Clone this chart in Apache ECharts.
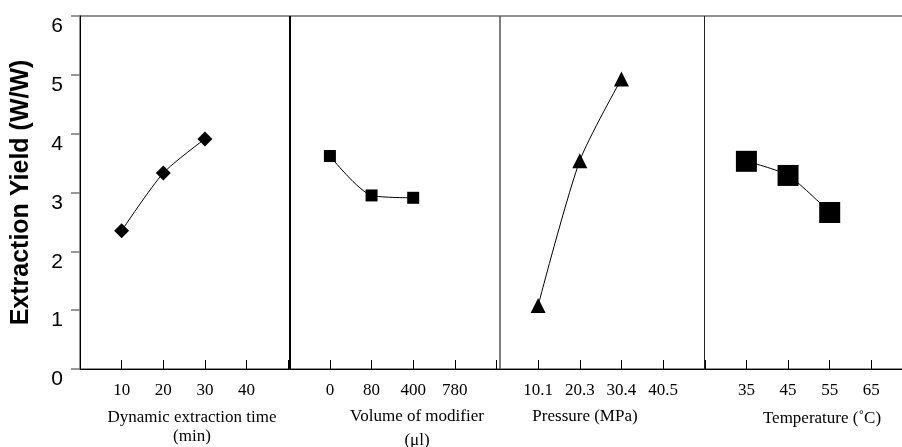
<!DOCTYPE html>
<html>
<head>
<meta charset="utf-8">
<style>
  html, body { margin: 0; padding: 0; background: #fff; }
  #chart { width: 902px; height: 447px; }
</style>
<script src="https://cdn.jsdelivr.net/npm/echarts@6/dist/echarts.min.js"></script>
</head>
<body>
<div id="chart"></div>
<script>
  // tick labels of each panel (4 slots per panel)
  var timeLabels = ['10', '20', '30', '40'];
  var modifierLabels = ['0', '80', '400', '780'];
  var pressureLabels = ['10.1', '20.3', '30.4', '40.5'];
  var tempLabels = ['35', '45', '55', '65'];

  // extraction yield
  var timeYield = [2.35, 3.33, 3.91];
  var modifierYield = [3.62, 2.95, 2.91];
  var pressureYield = [1.08, 3.54, 4.93];
  var tempYield = [3.53, 3.29, 2.66];

  var yTicks = [0, 1, 2, 3, 4, 5, 6];

  var panelLabels = [timeLabels, modifierLabels, pressureLabels, tempLabels];
  var SLOTS = 5;
  // panel separators (axis units)
  var dividers = [
    { x: 5.03, color: '#000', width: 2 },
    { x: 10.07, color: '#555', width: 1.5 },
    { x: 14.98, color: '#222', width: 1 }
  ];

  function toPoints(panel, values) {
    return values.map(function (v, i) {
      return [panel * SLOTS + i + 1, v];
    });
  }

  var serif = "'Liberation Serif', 'Times New Roman', serif";
  var sans = "'Liberation Sans', Arial, sans-serif";

  var chart = echarts.init(document.getElementById('chart'));

  var lineCommon = {
    type: 'line',
    smooth: 0.25,
    lineStyle: { color: '#000', width: 1 },
    itemStyle: { color: '#000' },
    z: 3
  };

  chart.setOption({
    animation: false,
    backgroundColor: '#fff',
    grid: {
      left: 80,
      top: 16,
      width: 833,
      height: 353,
      outerBoundsMode: 'none',
      containLabel: false,
      show: true,
      borderColor: '#6e6e6e',
      borderWidth: 1.5
    },
    xAxis: {
      type: 'value',
      min: 0,
      max: panelLabels.length * SLOTS,
      interval: 1,
      splitLine: { show: false },
      axisLine: { lineStyle: { color: '#000', width: 1 } },
      axisTick: { inside: true, length: 9, lineStyle: { color: '#000', width: 1 } },
      axisLabel: {
        margin: 13,
        fontFamily: serif,
        fontSize: 17,
        color: '#000',
        formatter: function (v) {
          var p = Math.floor(v / SLOTS);
          var i = v % SLOTS - 1;
          if (i < 0 || !panelLabels[p]) return '';
          return panelLabels[p][i];
        }
      }
    },
    yAxis: {
      type: 'value',
      min: yTicks[0],
      max: yTicks[yTicks.length - 1],
      interval: 1,
      name: 'Extraction Yield (W/W)',
      nameLocation: 'middle',
      nameRotate: 90,
      nameGap: 46,
      nameTextStyle: { fontFamily: sans, fontWeight: 'bold', fontSize: 25, color: '#000' },
      splitLine: { show: false },
      axisLine: { show: true, lineStyle: { color: '#000', width: 1 } },
      axisTick: { show: true, length: 9, lineStyle: { color: '#777', width: 1.5 } },
      axisLabel: {
        margin: 17,
        fontFamily: sans,
        fontSize: 21,
        lineHeight: 21,
        color: '#000',
        verticalAlign: 'top'
      }
    },
    graphic: [
      { type: 'text', x: 192, y: 408, style: { text: 'Dynamic extraction time\n(min)', align: 'center', verticalAlign: 'top', font: '17px ' + serif, lineHeight: 19, fill: '#000' } },
      { type: 'text', x: 417, y: 408, style: { text: 'Volume of modifier', align: 'center', verticalAlign: 'top', font: '17px ' + serif, fill: '#000' } },
      { type: 'text', x: 417, y: 432, style: { text: '(\u03bcl)', align: 'center', verticalAlign: 'top', font: '17px ' + serif, fill: '#000' } },
      { type: 'text', x: 585, y: 408, style: { text: 'Pressure (MPa)', align: 'center', verticalAlign: 'top', font: '17px ' + serif, fill: '#000' } },
      { type: 'text', x: 822, y: 410, style: { text: 'Temperature (\u02daC)', align: 'center', verticalAlign: 'top', font: '17px ' + serif, fill: '#000' } }
    ],
    series: [
      Object.assign({}, lineCommon, {
        name: 'time',
        symbol: 'diamond',
        symbolSize: 15,
        data: toPoints(0, timeYield)
      }),
      Object.assign({}, lineCommon, {
        name: 'modifier',
        symbol: 'rect',
        symbolSize: 12,
        data: toPoints(1, modifierYield)
      }),
      Object.assign({}, lineCommon, {
        name: 'pressure',
        symbol: 'triangle',
        symbolSize: 15,
        data: toPoints(2, pressureYield)
      }),
      Object.assign({}, lineCommon, {
        name: 'temperature',
        symbol: 'rect',
        symbolSize: 21,
        data: toPoints(3, tempYield)
      }),
      {
        name: 'dividers',
        type: 'line',
        data: [],
        silent: true,
        z: 2,
        markLine: {
          silent: true,
          symbol: 'none',
          label: { show: false },
          data: dividers.map(function (d) {
            return { xAxis: d.x, lineStyle: { color: d.color, width: d.width, type: 'solid' } };
          })
        }
      }
    ]
  });
</script>
</body>
</html>
